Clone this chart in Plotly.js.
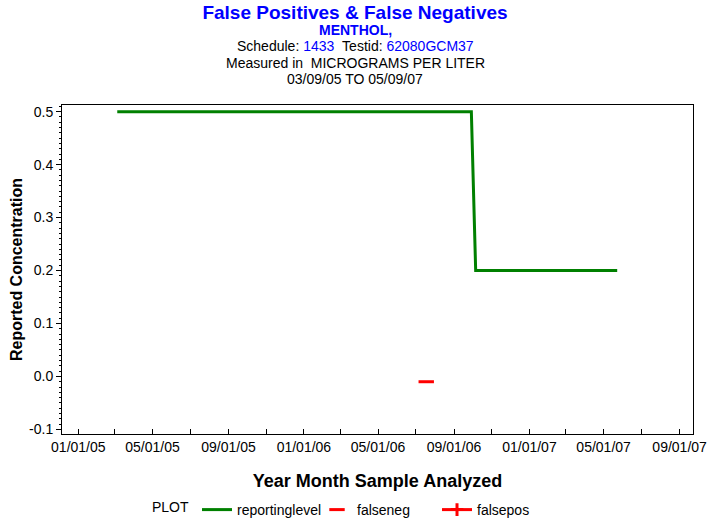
<!DOCTYPE html>
<html>
<head>
<meta charset="utf-8">
<script src="https://cdn.plot.ly/plotly-3.0.1.min.js"></script>
<style>html,body{margin:0;padding:0;background:#fff;}#chart{width:713px;height:523px;}</style>
</head>
<body>
<div id="chart"></div>
<script>
// ---- data ----
const reportDates = ['2005-03-05', '2006-09-29', '2006-10-06', '2007-05-23'];
const reportValues = [0.5, 0.5, 0.2, 0.2];
const falsenegDates = ['2006-07-18'];
const falsenegValues = [-0.01];
const falseposDates = [null];   // no false positives reported
const falseposValues = [null];
const xTickVals = ['2005-01-01', '2005-05-01', '2005-09-01', '2006-01-01', '2006-05-01', '2006-09-01', '2007-01-01', '2007-05-01', '2007-09-01'];
const xTickText = ['01/01/05', '05/01/05', '09/01/05', '01/01/06', '05/01/06', '09/01/06', '01/01/07', '05/01/07', '09/01/07'];
const yTickVals = [-0.1, 0.0, 0.1, 0.2, 0.3, 0.4, 0.5];
const yTickText = ['-0.1', '0.0', '0.1', '0.2', '0.3', '0.4', '0.5'];

const FONT = '"Liberation Sans", Arial, sans-serif';
const BLUE = '#0000ff';

const traces = [
  {
    x: reportDates, y: reportValues, name: 'reportinglevel', type: 'scatter', mode: 'lines',
    line: {color: '#008000', width: 3}
  },
  {
    x: falsenegDates, y: falsenegValues, name: 'falseneg', type: 'scatter', mode: 'markers',
    marker: {symbol: 'line-ew', size: 11, color: '#ff0000', line: {color: '#ff0000', width: 3}}
  },
  {
    x: falseposDates, y: falseposValues, name: 'falsepos', type: 'scatter', mode: 'lines+markers',
    line: {color: '#ff0000', width: 3},
    marker: {symbol: 'cross-thin', size: 9, color: '#ff0000', line: {color: '#ff0000', width: 3}}
  }
];

const plotH = 434 - 105;
function py(pix) { return (434 - pix) / plotH; }
const cx = (355 - 62) / 631;

const layout = {
  width: 713, height: 523,
  margin: {l: 62, r: 20, t: 105, b: 89, autoexpand: false},
  paper_bgcolor: '#fff', plot_bgcolor: '#fff',
  font: {family: FONT, size: 14, color: '#000'},
  showlegend: true,
  title: {
    text: '<b>False Positives & False Negatives</b>',
    font: {family: FONT, size: 19, color: BLUE},
    x: 355 / 713, xanchor: 'center', xref: 'container',
    y: 1 - 12 / 523, yanchor: 'middle', yref: 'container'
  },
  annotations: [
    {text: '<b>MENTHOL,</b>', x: cx, y: py(30), font: {size: 14, color: BLUE}},
    {text: 'Schedule: <span style="color:#0000ff">1433</span>\u00a0\u00a0Testid: <span style="color:#0000ff">62080GCM37</span>', x: cx, y: py(46), font: {size: 14, color: '#000'}},
    {text: 'Measured in\u00a0\u00a0MICROGRAMS PER LITER', x: cx, y: py(63), font: {size: 14, color: '#000'}},
    {text: '03/09/05 TO 05/09/07', x: cx, y: py(79), font: {size: 14, color: '#000'}}
  ].map(a => Object.assign({xref: 'paper', yref: 'paper', xanchor: 'center', yanchor: 'middle', showarrow: false}, a)),
  xaxis: {
    type: 'date',
    range: ['2004-12-05 14:00', '2007-09-22 16:00'],
    tickvals: xTickVals, ticktext: xTickText,
    ticks: 'inside', ticklen: 5, tickwidth: 1, tickcolor: '#000',
    minor: {dtick: 'M2', tick0: '2005-01-01', ticks: 'inside', ticklen: 5, tickcolor: '#000', showgrid: false},
    showline: true, linecolor: '#000', linewidth: 1, mirror: true,
    showgrid: false, zeroline: false, automargin: false,
    tickfont: {family: FONT, size: 14, color: '#000'},
    title: {text: '<b>Year Month Sample Analyzed</b>', font: {family: FONT, size: 18, color: '#000'}, standoff: 20}
  },
  yaxis: {
    range: [-0.1087, 0.5126],
    tickvals: yTickVals, ticktext: yTickText,
    ticks: 'outside', ticklen: 5, tickwidth: 1, tickcolor: '#000',
    minor: {dtick: 0.01, tick0: 0, ticks: 'outside', ticklen: 2, tickcolor: '#000', showgrid: false},
    showline: true, linecolor: '#000', linewidth: 1, mirror: true,
    showgrid: false, zeroline: false, automargin: false,
    tickfont: {family: FONT, size: 14, color: '#000'},
    title: {text: '<b>Reported Concentration</b>', font: {family: FONT, size: 16, color: '#000'}, standoff: 2}
  },
  legend: {
    orientation: 'h',
    x: (150 - 62) / 631, xanchor: 'left',
    y: py(510), yanchor: 'middle',
    font: {family: FONT, size: 14, color: '#000'},
    title: {text: 'PLOT', side: 'left', font: {family: FONT, size: 14, color: '#000'}},
    itemwidth: 30,
    entrywidth: 75, entrywidthmode: 'pixels',
    bgcolor: 'rgba(0,0,0,0)'
  }
};

Plotly.newPlot('chart', traces, layout, {displayModeBar: false, staticPlot: true});
</script>
</body>
</html>
